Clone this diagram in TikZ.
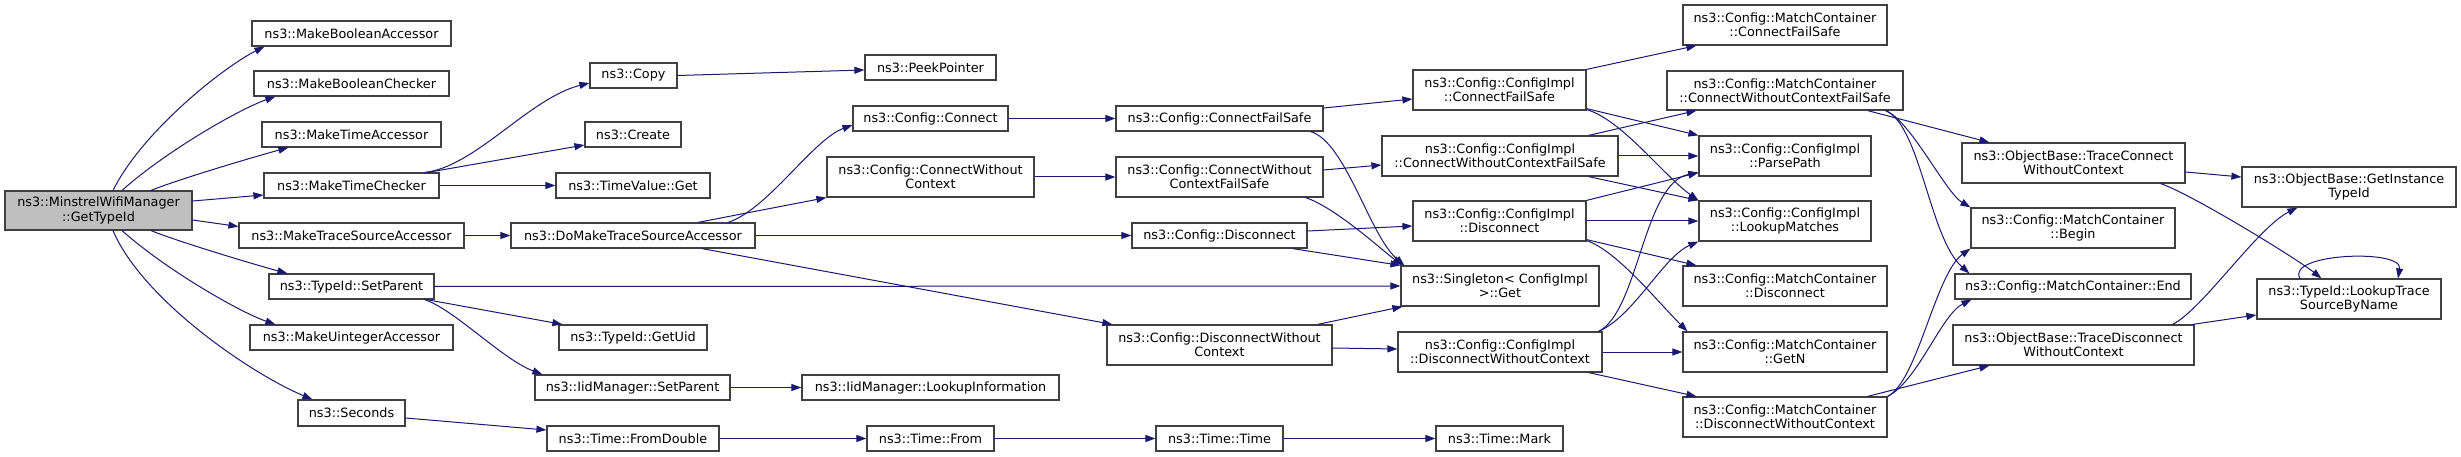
\documentclass[tikz,border=0pt]{standalone}
\usepackage{fontspec}
\setmainfont{DejaVu Sans}
\usetikzlibrary{arrows.meta}
\definecolor{edgec}{HTML}{191970}
\definecolor{boxc}{HTML}{404040}
\definecolor{rootc}{HTML}{BFBFBF}
\tikzset{
  box/.style={draw=boxc,line width=1.2pt,fill=white,inner sep=0pt,align=center,
    font=\fontsize{12.8}{14.2}\selectfont},
  rootbox/.style={box,fill=rootc},
  e/.style={draw=edgec,line width=1pt,-{Triangle[length=10pt,width=7pt]}}
}
\newcommand\bx[7][box]{\node[#1,minimum width={(#5-#3)*1pt},minimum height={(#6-#4)*1pt}] (#2) at ({(#3+#5)/2},{(#4+#6)/2}) {#7};}
\begin{document}
\begin{tikzpicture}[x=1pt,y=-1pt]
\useasboundingbox[fill=white] (0,0) rectangle (2461,457);
\bx[rootbox]{root}{5}{191}{192}{230}{ns3::MinstrelWifiManager\\::GetTypeId}
\bx{mba}{252}{21}{451}{46}{ns3::MakeBooleanAccessor}
\bx{mbc}{254}{71}{449}{96}{ns3::MakeBooleanChecker}
\bx{mta}{262}{122}{441}{147}{ns3::MakeTimeAccessor}
\bx{mtc}{264}{173}{439}{198}{ns3::MakeTimeChecker}
\bx{mtsa}{239}{223}{464}{248}{ns3::MakeTraceSourceAccessor}
\bx{tsp}{269}{274}{434}{299}{ns3::TypeId::SetParent}
\bx{mua}{250}{325}{453}{350}{ns3::MakeUintegerAccessor}
\bx{sec}{298}{400}{405}{426}{ns3::Seconds}
\bx{copy}{590}{63}{677}{88}{ns3::Copy}
\bx{create}{585}{122}{681}{147}{ns3::Create}
\bx{tvg}{556}{173}{710}{198}{ns3::TimeValue::Get}
\bx{dmtsa}{511}{223}{755}{248}{ns3::DoMakeTraceSourceAccessor}
\bx{gu}{559}{325}{707}{350}{ns3::TypeId::GetUid}
\bx{isp}{535}{375}{730}{400}{ns3::IidManager::SetParent}
\bx{fd}{547}{426}{719}{451}{ns3::Time::FromDouble}
\bx{pp}{865}{55}{996}{80}{ns3::PeekPointer}
\bx{cc}{853}{106}{1008}{131}{ns3::Config::Connect}
\bx{cwc}{827}{157}{1034}{197}{ns3::Config::ConnectWithout\\Context}
\bx{ili}{802}{375}{1059}{400}{ns3::IidManager::LookupInformation}
\bx{tf}{867}{426}{994}{451}{ns3::Time::From}
\bx{cfs}{1116}{106}{1323}{131}{ns3::Config::ConnectFailSafe}
\bx{cwcfs}{1116}{157}{1323}{197}{ns3::Config::ConnectWithout\\ContextFailSafe}
\bx{cd}{1132}{223}{1307}{248}{ns3::Config::Disconnect}
\bx{dwc}{1107}{325}{1332}{365}{ns3::Config::DisconnectWithout\\Context}
\bx{tt}{1156}{426}{1283}{451}{ns3::Time::Time}
\bx{tm}{1436}{426}{1563}{451}{ns3::Time::Mark}
\bx{icfs}{1413}{70}{1586}{110}{ns3::Config::ConfigImpl\\::ConnectFailSafe}
\bx{icwcfs}{1382}{136}{1618}{176}{ns3::Config::ConfigImpl\\::ConnectWithoutContextFailSafe}
\bx{id}{1413}{201}{1586}{241}{ns3::Config::ConfigImpl\\::Disconnect}
\bx{sg}{1401}{266}{1599}{306}{ns3::Singleton< ConfigImpl\\>::Get}
\bx{idwc}{1398}{332}{1602}{372}{ns3::Config::ConfigImpl\\::DisconnectWithoutContext}
\bx{mcfs}{1683}{5}{1887}{45}{ns3::Config::MatchContainer\\::ConnectFailSafe}
\bx{mcwcfs}{1667}{71}{1903}{110}{ns3::Config::MatchContainer\\::ConnectWithoutContextFailSafe}
\bx{ppath}{1699}{136}{1871}{176}{ns3::Config::ConfigImpl\\::ParsePath}
\bx{lm}{1699}{201}{1871}{241}{ns3::Config::ConfigImpl\\::LookupMatches}
\bx{md}{1683}{266}{1887}{306}{ns3::Config::MatchContainer\\::Disconnect}
\bx{mgn}{1683}{332}{1887}{372}{ns3::Config::MatchContainer\\::GetN}
\bx{mdwc}{1683}{397}{1887}{437}{ns3::Config::MatchContainer\\::DisconnectWithoutContext}
\bx{otc}{1962}{143}{2185}{183}{ns3::ObjectBase::TraceConnect\\WithoutContext}
\bx{mb}{1971}{208}{2175}{248}{ns3::Config::MatchContainer\\::Begin}
\bx{me}{1955}{274}{2191}{299}{ns3::Config::MatchContainer::End}
\bx{otd}{1953}{325}{2194}{365}{ns3::ObjectBase::TraceDisconnect\\WithoutContext}
\bx{git}{2242}{167}{2456}{207}{ns3::ObjectBase::GetInstance\\TypeId}
\bx{lts}{2257}{279}{2441}{319}{ns3::TypeId::LookupTrace\\SourceByName}
% root edges
\draw[e] ([xshift=14.5pt]root.north) .. controls +(30,-60) and +(-40,20) .. ([xshift=13pt]mba.south west);
\draw[e] ([xshift=23.5pt]root.north) .. controls +(45,-40) and +(-35,12) .. ([xshift=22pt]mbc.south west);
\draw[e] ([xshift=52.5pt]root.north) .. controls +(30,-12) and +(-30,8) .. ([xshift=27pt]mta.south west);
\draw[e] ([yshift=9.5pt]root.east) -- ([yshift=-9.5pt]mtc.west);
\draw[e] ([yshift=-9.5pt]root.east) -- ([yshift=9pt]mtsa.west);
\draw[e] ([xshift=52.5pt]root.south) .. controls +(30,12) and +(-30,-8) .. ([xshift=19pt]tsp.north west);
\draw[e] ([xshift=23.5pt]root.south) .. controls +(45,40) and +(-35,-12) .. ([xshift=26pt]mua.north west);
\draw[e] ([xshift=14.5pt]root.south) .. controls +(30,70) and +(-60,-25) .. ([xshift=15pt]sec.north west);
% second level
\draw[e] ([xshift=-15pt]mtc.north east) .. controls +(50,-5) and +(-60,15) .. ([yshift=-7.5pt]copy.west);
\draw[e] ([xshift=-12pt]mtc.north east) -- ([yshift=-10.5pt]create.west);
\draw[e] (mtc.east) -- (tvg.west);
\draw[e] (copy.east) -- ([yshift=-2.5pt]pp.west);
\draw[e] (mtsa.east) -- (dmtsa.west);
\draw[e] ([xshift=95pt]dmtsa.north) .. controls +(40,-13) and +(-40,15) .. ([yshift=-6.5pt]cc.west);
\draw[e] ([xshift=65pt]dmtsa.north) -- (cwc.south west);
\draw[e] (dmtsa.east) -- (cd.west);
\draw[e] ([xshift=69pt]dmtsa.south) -- ([xshift=6pt]dwc.north west);
\draw[e] (tsp.east) -- (sg.west);
\draw[e] ([xshift=-8pt]tsp.south east) -- ([xshift=4pt]gu.north west);
\draw[e] ([xshift=-10pt]tsp.south east) .. controls +(30,10) and +(-40,-15) .. ([xshift=8pt]isp.north west);
\draw[e] (isp.east) -- (ili.west);
\draw[e] ([yshift=-5pt]sec.east) -- ([yshift=8.5pt]fd.west);
\draw[e] (fd.east) -- (tf.west);
\draw[e] (tf.east) -- (tt.west);
\draw[e] (tt.east) -- (tm.west);
% config
\draw[e] (cc.east) -- (cfs.west);
\draw[e] (cwc.east) -- (cwcfs.west);
\draw[e] ([yshift=10.5pt]cfs.east) -- ([yshift=-9pt]icfs.west);
\draw[e] ([xshift=-13pt]cfs.south east) .. controls +(35,10) and +(-35,-30) .. ([xshift=4pt]sg.north west);
\draw[e] ([yshift=7pt]cwcfs.east) -- ([yshift=-9pt]icwcfs.west);
\draw[e] ([xshift=-18pt]cwcfs.south east) .. controls +(30,10) and +(-20,-15) .. ([xshift=2pt]sg.north west);
\draw[e] ([yshift=4.5pt]cd.east) -- ([yshift=-5pt]id.west);
\draw[e] ([xshift=-15pt]cd.south east) -- (sg.north west);
\draw[e] ([xshift=-15pt]dwc.north east) -- ([xshift=2pt]sg.south west);
\draw[e] ([yshift=-3pt]dwc.east) -- ([yshift=3pt]idwc.west);
% config impl
\draw[e] (icfs.north east) -- ([xshift=14pt]mcfs.south west);
\draw[e] ([yshift=2pt]icfs.south east) -- (ppath.north west);
\draw[e] ([yshift=1pt]icfs.south east) .. controls +(35,10) and +(-35,-25) .. (lm.north west);
\draw[e] ([xshift=-30pt]icwcfs.north east) -- ([xshift=30pt]mcwcfs.south west);
\draw[e] (icwcfs.east) -- (ppath.west);
\draw[e] ([xshift=-30pt]icwcfs.south east) -- (lm.north west);
\draw[e] (id.north east) -- ([yshift=4pt]ppath.south west);
\draw[e] (id.east) -- (lm.west);
\draw[e] ([yshift=2pt]id.south east) -- ([xshift=14pt]md.north west);
\draw[e] ([yshift=1pt]id.south east) .. controls +(30,10) and +(-30,-30) .. ([xshift=5pt]mgn.north west);
\draw[e] ([xshift=-4pt]idwc.north east) .. controls +(40,-20) and +(-55,10) .. ([yshift=4pt]ppath.south west);
\draw[e] ([xshift=-4pt]idwc.north east) .. controls +(35,-15) and +(-35,15) .. (lm.south west);
\draw[e] (idwc.east) -- (mgn.west);
\draw[e] ([xshift=-14pt]idwc.south east) -- ([xshift=14pt]mdwc.north west);
% match container
\draw[e] ([xshift=-36pt]mcwcfs.south east) -- ([xshift=28pt]otc.north west);
\draw[e] ([xshift=-18pt]mcwcfs.south east) .. controls +(25,10) and +(-25,-15) .. (mb.north west);
\draw[e] ([xshift=-18pt]mcwcfs.south east) .. controls +(35,15) and +(-40,-35) .. ([xshift=15pt]me.north west);
\draw[e] (mdwc.north east) .. controls +(30,-15) and +(-35,25) .. (mb.south west);
\draw[e] (mdwc.north east) .. controls +(30,-15) and +(-30,15) .. ([xshift=17pt]me.south west);
\draw[e] ([xshift=-20pt]mdwc.north east) -- ([xshift=37pt]otd.south west);
% object base
\draw[e] ([yshift=-9pt]otc.east) -- ([yshift=10pt]git.west);
\draw[e] ([xshift=-25pt]otc.south east) .. controls +(30,10) and +(-25,-20) .. ([xshift=65pt]lts.north west);
\draw[e] ([xshift=-22pt]otd.north east) .. controls +(30,-15) and +(-40,20) .. ([xshift=56pt]git.south west);
\draw[e] ([xshift=-2pt]otd.north east) -- ([yshift=-16pt]lts.west);
\draw[e] ([xshift=-49pt]lts.north) .. controls +(-15,-25) and +(5,-30) .. ([xshift=49pt]lts.north);
\end{tikzpicture}
\end{document}
